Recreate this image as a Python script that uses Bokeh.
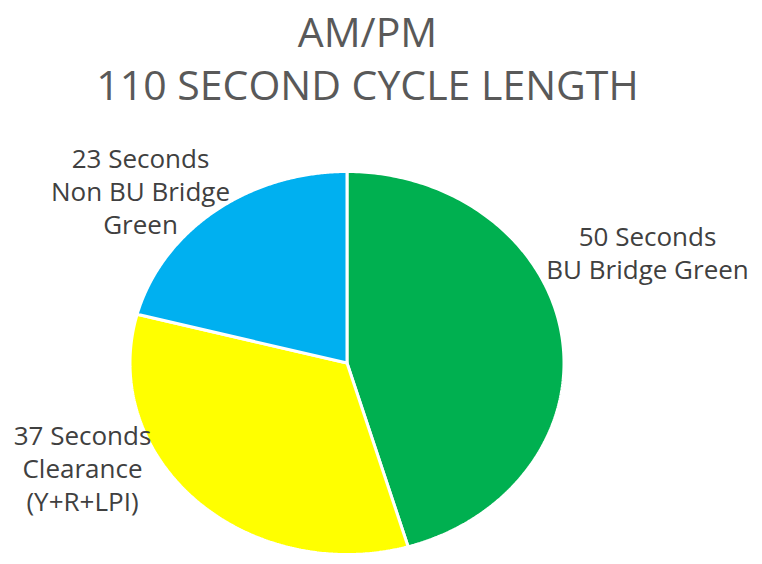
import numpy as np
from bokeh.plotting import figure
from bokeh.models import Range1d, ColumnDataSource
from bokeh.core.properties import value
from bokeh.embed import file_html
from bokeh.resources import INLINE

# ---- data ----
title_lines = ["AM/PM", "110 SECOND CYCLE LENGTH"]
categories = ["BU Bridge Green", "Clearance", "Non BU Bridge Green"]
seconds = [50, 37, 23]
colors = ["#00B050", "#FFFF00", "#00B0F0"]
label_lines = [
    ["50 Seconds", "BU Bridge Green"],
    ["37 Seconds", "Clearance", "(Y+R+LPI)"],
    ["23 Seconds", "Non BU Bridge", "Green"],
]

# ---- layout (pixel space of the page) ----
W, H = 760, 560
cx, cy = 346.5, 362.5
rx, ry = 217.0, 191.5
label_pos = [(647, 235), (82, 434), (140, 157)]
label_step = 33.3
title_pos = [(367, 30), (367, 83)]
FONT = "Open Sans"

p = figure(width=W, height=H, output_backend="svg", toolbar_location=None,
           x_range=Range1d(0, W), y_range=Range1d(H, 0),
           min_border=0)
p.axis.visible = False
p.grid.visible = False
p.outline_line_color = None
p.background_fill_color = "white"

total = float(sum(seconds))
start = 0.0
xs, ys = [], []
for v in seconds:
    end = start + v / total * 2 * np.pi
    t = np.linspace(start, end, 200)
    xs.append(np.concatenate([[cx], cx + rx * np.sin(t)]).tolist())
    ys.append(np.concatenate([[cy], cy - ry * np.cos(t)]).tolist())
    start = end

src = ColumnDataSource(dict(xs=xs, ys=ys, color=colors, cat=categories))
p.patches("xs", "ys", source=src, fill_color="color", line_color="white", line_width=3)

# title
p.text(x=[tp[0] for tp in title_pos], y=[tp[1] for tp in title_pos], text=title_lines,
       text_align="center", text_baseline="middle", text_font=value(FONT),
       text_font_size="41px", text_color="#595959")

# labels
lx, ly, lt = [], [], []
for (x0, y0), lines in zip(label_pos, label_lines):
    for i, s in enumerate(lines):
        lx.append(x0)
        ly.append(y0 + i * label_step)
        lt.append(s)
p.text(x=lx, y=ly, text=lt, text_align="center", text_baseline="middle",
       text_font=value(FONT), text_font_size="26px", text_color="#404040")

open("out.html", "w").write(file_html(p, INLINE))
